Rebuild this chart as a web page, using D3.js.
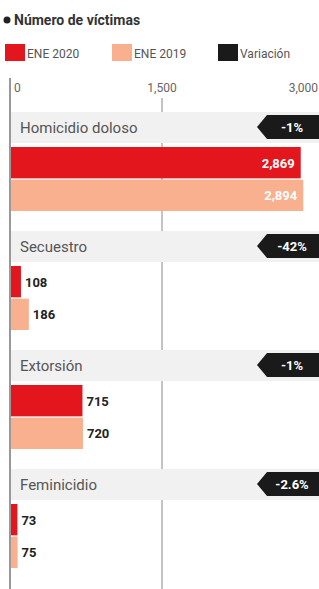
<!DOCTYPE html>
<html>
<head>
<meta charset="utf-8">
<script src="https://cdn.jsdelivr.net/npm/d3@7"></script>
<style>
  body { margin: 0; background: #fff; }
  svg text { font-family: "Liberation Sans Narrow", "Roboto", sans-serif; }
</style>
</head>
<body>
<div id="chart"></div>
<script>
// chart size
const width = 319;
const height = 589;

// data
const categories = ["Homicidio doloso", "Secuestro", "Extorsión", "Feminicidio"];
const ene2020 = [2869, 108, 715, 73];
const ene2019 = [2894, 186, 720, 75];
const variacion = ["-1%", "-42%", "-1%", "-2.6%"];
const ticks = [0, 1500, 3000];

const colors = { y2020: "#e3151d", y2019: "#f9b08f", varia: "#1a1a1a" };

const svg = d3.select("#chart")
    .append("svg")
    .attr("width", width)
    .attr("height", height);

// title
svg.append("circle").attr("cx", 7).attr("cy", 20).attr("r", 3.5).attr("fill", "#222");
svg.append("text")
    .attr("x", 14).attr("y", 25)
    .attr("font-size", 14).attr("font-weight", "bold").attr("fill", "#333")
    .text("Número de víctimas");

// legend
const legend = [
  { label: "ENE 2020", color: colors.y2020, x: 5 },
  { label: "ENE 2019", color: colors.y2019, x: 112 },
  { label: "Variación", color: colors.varia, x: 218 }
];
const lg = svg.selectAll(".lg").data(legend).enter().append("g")
    .attr("transform", d => `translate(${d.x},44)`);
lg.append("rect").attr("width", 20).attr("height", 17).attr("fill", d => d.color);
lg.append("text").attr("x", 22).attr("y", 14)
    .attr("font-size", 12).attr("fill", "#555").text(d => d.label);

// scales
const x = d3.scaleLinear().domain([0, 3000]).range([10, 314]);
const y = d3.scaleBand().domain(categories).range([112, 112 + 4 * 119]);
const yInner = d3.scaleBand().domain(["2020", "2019"]).range([35, 99]).paddingInner(0.04);

// gridline at 1500
svg.append("line")
    .attr("x1", x(1500)).attr("x2", x(1500))
    .attr("y1", 98).attr("y2", height)
    .attr("stroke", "#888").attr("stroke-width", 1);

// tick labels
svg.selectAll(".tick").data(ticks).enter().append("text")
    .attr("x", d => d === 0 ? x(d) + 4 : (d === 3000 ? width - 1 : x(d)))
    .attr("y", 92)
    .attr("text-anchor", d => d === 0 ? "start" : (d === 3000 ? "end" : "middle"))
    .attr("font-size", 12).attr("fill", "#666")
    .text(d => d3.format(",")(d));

// groups
const groups = svg.selectAll(".grp")
    .data(categories.map((c, i) => ({ cat: c, v20: ene2020[i], v19: ene2019[i], varia: variacion[i] })))
    .enter().append("g")
    .attr("transform", d => `translate(0,${y(d.cat)})`);

// category band
groups.append("rect")
    .attr("x", x(0)).attr("y", 0)
    .attr("width", width - x(0)).attr("height", 31)
    .attr("fill", "#f1f1f1");

groups.append("text")
    .attr("x", 20).attr("y", 21)
    .attr("font-size", 15).attr("fill", "#555")
    .text(d => d.cat);

// variation tag
groups.append("path")
    .attr("d", "M257,15 L267,3 L319,3 L319,27 L267,27 Z")
    .attr("fill", colors.varia);
groups.append("text")
    .attr("x", 292).attr("y", 20)
    .attr("text-anchor", "middle")
    .attr("font-size", 13).attr("font-weight", "bold").attr("fill", "#fff")
    .text(d => d.varia);

// bars
const series = [
  { key: "2020", field: "v20", color: colors.y2020 },
  { key: "2019", field: "v19", color: colors.y2019 }
];
series.forEach(s => {
  groups.append("rect")
    .attr("x", x(0))
    .attr("y", yInner(s.key))
    .attr("width", d => x(d[s.field]) - x(0))
    .attr("height", yInner.bandwidth())
    .attr("fill", s.color);

  groups.append("text")
    .attr("x", d => d[s.field] > 2000 ? x(d[s.field]) - 6 : x(d[s.field]) + 4)
    .attr("y", yInner(s.key) + yInner.bandwidth() / 2 + 5)
    .attr("text-anchor", d => d[s.field] > 2000 ? "end" : "start")
    .attr("font-size", 13).attr("font-weight", "bold")
    .attr("fill", d => d[s.field] > 2000 ? "#fff" : "#222")
    .text(d => d3.format(",")(d[s.field]));
});

// vertical axis line
svg.append("line")
    .attr("x1", x(0)).attr("x2", x(0))
    .attr("y1", 78).attr("y2", height)
    .attr("stroke", "#999").attr("stroke-width", 2);
</script>
</body>
</html>
